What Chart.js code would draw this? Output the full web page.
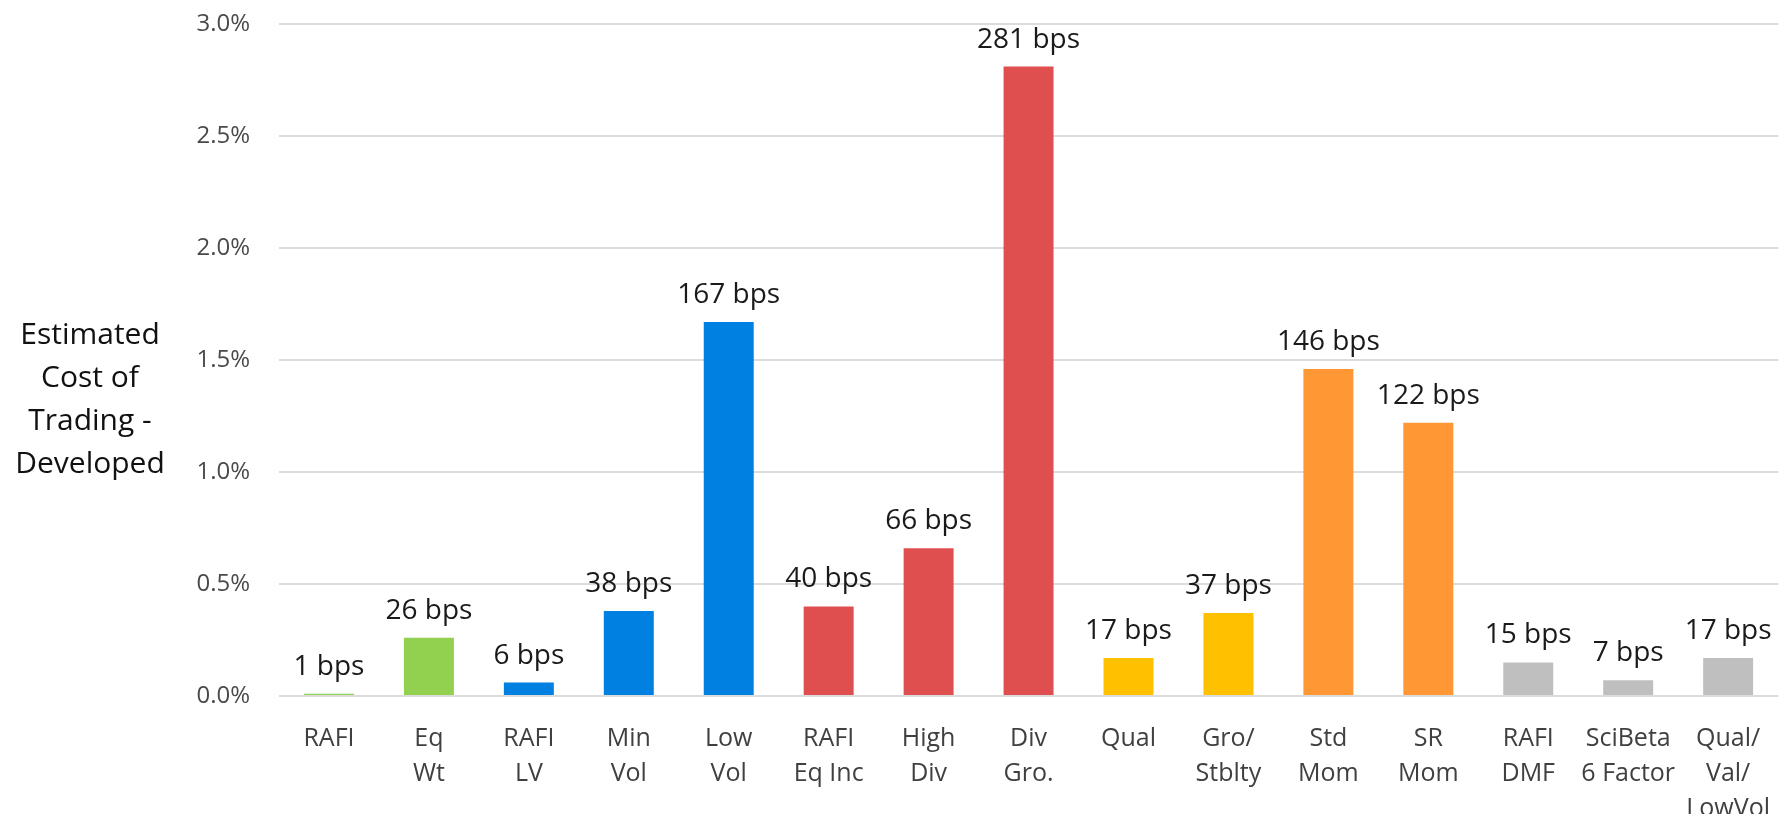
<!DOCTYPE html>
<html>
<head>
<meta charset="utf-8">
<script src="https://cdn.jsdelivr.net/npm/chart.js@4.4.0/dist/chart.umd.min.js"></script>
<style>
html, body { margin: 0; padding: 0; background: #fff; }
#wrap { width: 1787px; height: 814px; position: relative; }
</style>
</head>
<body>
<div id="wrap"><canvas id="costChart"></canvas></div>
<script>
const categories = [
  ["RAFI"], ["Eq", "Wt"], ["RAFI", "LV"], ["Min", "Vol"], ["Low", "Vol"],
  ["RAFI", "Eq Inc"], ["High", "Div"], ["Div", "Gro."], ["Qual"], ["Gro/", "Stblty"],
  ["Std", "Mom"], ["SR", "Mom"], ["RAFI", "DMF"], ["SciBeta", "6 Factor"], ["Qual/", "Val/", "LowVol"]
];
const costBps = [1, 26, 6, 38, 167, 40, 66, 281, 17, 37, 146, 122, 15, 7, 17];
const yTickMax = 3.0;
const yTickStep = 0.5;
const axisTitle = ["Estimated", "Cost of", "Trading -", "Developed"];

const barColors = [
  '#92D050', '#92D050', '#0080E0', '#0080E0', '#0080E0',
  '#DF4F4F', '#DF4F4F', '#DF4F4F', '#FFC000', '#FFC000',
  '#FF9735', '#FF9735', '#BFBFBF', '#BFBFBF', '#BFBFBF'
];

const FONT = "'Open Sans', 'Noto Sans', sans-serif";

// bps -> percent
const costPct = costBps.map(v => v / 100);

const barLabels = {
  id: 'barLabels',
  afterDatasetsDraw(chart) {
    const ctx = chart.ctx;
    const meta = chart.getDatasetMeta(0);
    ctx.save();
    ctx.font = '28px ' + FONT;
    ctx.fillStyle = '#1a1a1a';
    ctx.textAlign = 'center';
    ctx.textBaseline = 'alphabetic';
    meta.data.forEach((bar, i) => {
      ctx.fillText(costBps[i] + ' bps', bar.x, bar.y - 19);
    });
    ctx.restore();
  }
};

const sideTitle = {
  id: 'sideTitle',
  afterDraw(chart) {
    const ctx = chart.ctx;
    ctx.save();
    ctx.font = '30px ' + FONT;
    ctx.fillStyle = '#111';
    ctx.textAlign = 'center';
    ctx.textBaseline = 'middle';
    axisTitle.forEach((line, i) => {
      ctx.fillText(line, 90, 335 + i * 43);
    });
    ctx.restore();
  }
};

Chart.defaults.font.family = FONT;

new Chart(document.getElementById('costChart'), {
  type: 'bar',
  data: {
    labels: categories,
    datasets: [{
      data: costPct,
      backgroundColor: barColors,
      barPercentage: 0.5,
      categoryPercentage: 1.0
    }]
  },
  options: {
    responsive: true,
    maintainAspectRatio: false,
    animation: false,
    layout: { padding: { top: 24, right: 0, bottom: 0, left: 0 } },
    plugins: {
      legend: { display: false },
      tooltip: { enabled: false }
    },
    scales: {
      x: {
        grid: { display: false },
        border: { display: false },
        ticks: {
          autoSkip: false,
          maxRotation: 0,
          padding: 17,
          color: '#404040',
          font: { size: 25, lineHeight: 1.4 }
        },
        afterFit(scale) { scale.height = 118; }
      },
      y: {
        min: 0,
        max: yTickMax,
        grid: { color: '#DCDCDC', lineWidth: 2, drawTicks: false },
        border: { display: false },
        ticks: {
          stepSize: yTickStep,
          padding: 29,
          color: '#4a4a4a',
          font: { size: 24 },
          callback: v => v.toFixed(1) + '%'
        },
        afterFit(scale) {
          scale.width = 279;
          // tick padding is otherwise added above/below the plot too
          scale.paddingTop = 0;
          scale.paddingBottom = 0;
        }
      }
    }
  },
  plugins: [barLabels, sideTitle]
});
</script>
</body>
</html>
